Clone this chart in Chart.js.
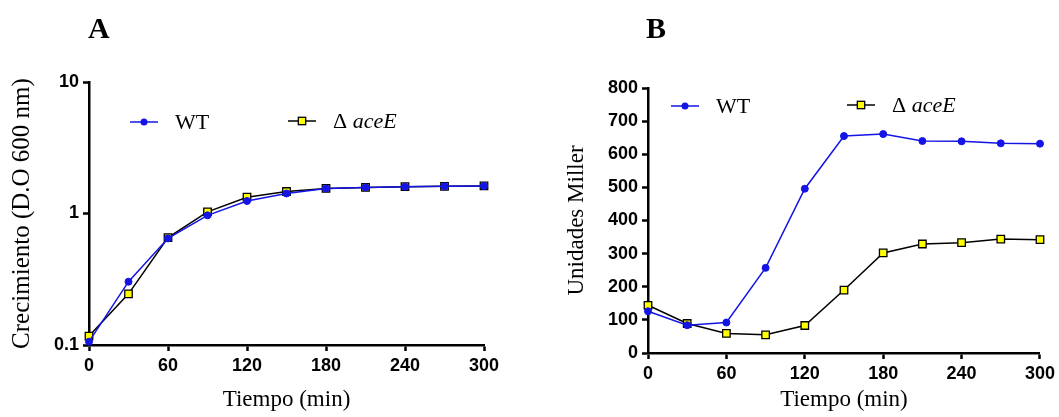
<!DOCTYPE html>
<html>
<head>
<meta charset="utf-8">
<script src="https://cdn.jsdelivr.net/npm/chart.js@4.4.1/dist/chart.umd.min.js"></script>
<style>
  body { margin: 0; background: #fff; }
  #wrap { position: relative; width: 1059px; height: 417px; }
  .panel { position: absolute; top: 0; height: 417px; }
  #panelA { left: 0; width: 530px; }
  #panelB { left: 530px; width: 529px; }
  .tag { position: absolute; top: 13px; font: bold 30px "Liberation Serif", serif; line-height: 1; }
</style>
</head>
<body>
<div id="wrap">
  <div class="panel" id="panelA"><canvas id="chartA" width="530" height="417"></canvas></div>
  <div class="panel" id="panelB"><canvas id="chartB" width="529" height="417"></canvas></div>
  <div class="tag" style="left:88px">A</div>
  <div class="tag" style="left:646px">B</div>
</div>
<script>
// time points (min)
const tiempo = [0, 30, 60, 90, 120, 150, 180, 210, 240, 270, 300];

// panel A - growth (OD 600 nm)
const growthWT = [0.106, 0.303, 0.647, 0.968, 1.245, 1.42, 1.55, 1.58, 1.60, 1.61, 1.62];
const growthAceE = [0.117, 0.245, 0.655, 1.03, 1.33, 1.47, 1.55, 1.58, 1.60, 1.61, 1.62];

// panel B - Miller units
const millerWT = [126, 84, 92, 257, 496, 655, 661, 640, 639, 633, 632];
const millerAceE = [144, 89, 59, 55, 83, 190, 302, 329, 333, 344, 342];

const xTicks = [0, 60, 120, 180, 240, 300];
const logTicks = [0.1, 1, 10];

const blue = "#1414e6";
const yellow = "#ffff00";

const tickFont = { family: "'Liberation Sans', Arial, sans-serif", size: 18, weight: "bold" };
const titleFont = { family: "'Liberation Serif', 'Times New Roman', serif", size: 23 };

function toPoints(values) {
    return tiempo.map((t, i) => ({ x: t, y: values[i] }));
}

function makeDatasets(wt, acee) {
    return [{
        label: "WT",
        data: toPoints(wt),
        borderColor: blue,
        backgroundColor: blue,
        borderWidth: 1.5,
        pointStyle: "circle",
        pointRadius: 3.5,
        pointBorderWidth: 1,
        clip: false
    }, {
        label: "aceE",
        data: toPoints(acee),
        borderColor: "#000",
        backgroundColor: yellow,
        borderWidth: 1.5,
        pointStyle: "rect",
        pointRadius: 5.3,
        pointBorderWidth: 1.3,
        clip: false
    }];
}

// legend drawn inside the plot, like the original figure
const innerLegend = {
    id: "innerLegend",
    afterDatasetsDraw(chart, args, opts) {
        const ctx = chart.ctx;
        const items = opts.items || [];
        chart.data.datasets.forEach((ds, i) => {
            const it = items[i];
            if (!it) return;
            ctx.save();
            ctx.strokeStyle = ds.borderColor;
            ctx.lineWidth = 1.5;
            ctx.beginPath();
            ctx.moveTo(it.x, it.y);
            ctx.lineTo(it.x + 28, it.y);
            ctx.stroke();
            const mx = it.x + 14;
            ctx.fillStyle = ds.backgroundColor;
            if (ds.pointStyle === "rect") {
                ctx.lineWidth = 1.3;
                ctx.fillRect(mx - 3.7, it.y - 3.7, 7.4, 7.4);
                ctx.strokeRect(mx - 3.7, it.y - 3.7, 7.4, 7.4);
            } else {
                ctx.beginPath();
                ctx.arc(mx, it.y, 3.5, 0, Math.PI * 2);
                ctx.fill();
            }
            ctx.fillStyle = "#000";
            ctx.textBaseline = "middle";
            ctx.textAlign = "left";
            let tx = it.x + 45;
            ctx.font = "22px 'Liberation Serif', serif";
            if (ds.label === "WT") {
                ctx.fillText("WT", tx, it.y + 1);
            } else {
                ctx.fillText("\u0394 ", tx, it.y + 1);
                tx += ctx.measureText("\u0394 ").width;
                ctx.font = "italic 22px 'Liberation Serif', serif";
                ctx.fillText("aceE", tx, it.y + 1);
            }
            ctx.restore();
        });
    }
};

function axisStyle() {
    return {
        border: { color: "#000", width: 2.5 },
        grid: { drawOnChartArea: false, drawTicks: true, tickLength: 6, tickColor: "#000", tickWidth: 2.5 },
    };
}

function buildChart(canvasId, wt, acee, yScale, geom) {
    return new Chart(document.getElementById(canvasId), {
        type: "line",
        data: { datasets: makeDatasets(wt, acee) },
        options: {
            responsive: false,
            animation: false,
            layout: { padding: { top: geom.top, right: geom.right, left: 0, bottom: 0 } },
            plugins: {
                legend: { display: false },
                tooltip: { enabled: false },
                innerLegend: { items: geom.legend }
            },
            scales: {
                x: {
                    type: "linear",
                    min: 0,
                    max: 300,
                    ...axisStyle(),
                    afterBuildTicks: (axis) => { axis.ticks = xTicks.map(v => ({ value: v })); },
                    afterFit: (axis) => { axis.height = geom.xHeight; },
                    ticks: { color: "#000", font: tickFont, padding: 4, maxRotation: 0 },
                    title: { display: true, text: "Tiempo (min)", color: "#000", font: titleFont, padding: { top: 0, bottom: 3 } }
                },
                y: Object.assign({
                    ...axisStyle(),
                    afterFit: (axis) => { axis.width = geom.yWidth; },
                }, yScale)
            }
        },
        plugins: [innerLegend]
    });
}

// panel A: log scale
buildChart("chartA", growthWT, growthAceE, {
    type: "logarithmic",
    min: 0.1,
    max: 10,
    afterBuildTicks: (axis) => { axis.ticks = logTicks.map(v => ({ value: v })); },
    ticks: { color: "#000", font: tickFont, padding: 4, callback: (v) => String(v) },
    title: { display: true, text: "Crecimiento (D.O 600 nm)", color: "#000",
             font: { family: titleFont.family, size: 25 }, padding: { top: 7, bottom: 0 } }
}, {
    top: 82, right: 46, xHeight: 72, yWidth: 89,
    legend: [{ x: 130, y: 122 }, { x: 288, y: 121 }]
});

// panel B: linear scale
buildChart("chartB", millerWT, millerAceE, {
    type: "linear",
    min: 0,
    max: 800,
    ticks: { color: "#000", font: tickFont, padding: 4, stepSize: 100 },
    title: { display: true, text: "Unidades Miller", color: "#000", font: titleFont, padding: { top: 33, bottom: 0 } }
}, {
    top: 88, right: 16, xHeight: 64, yWidth: 118,
    legend: [{ x: 141, y: 106 }, { x: 317, y: 105 }]
});
</script>
</body>
</html>
